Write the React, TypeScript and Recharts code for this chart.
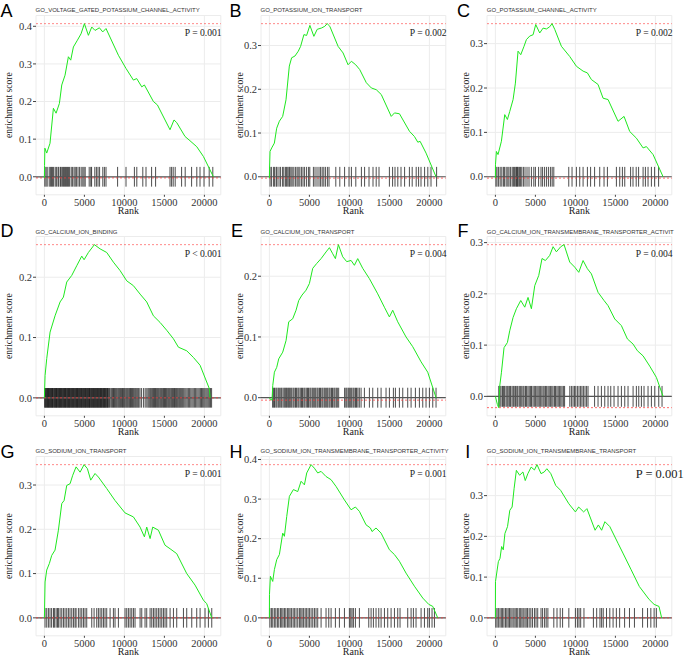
import React from 'react';
import { ComposedChart, Line, XAxis, YAxis, CartesianGrid, ReferenceLine } from 'recharts';

const rankTicks = [0, 5000, 10000, 15000, 20000];

// running enrichment score as [rank, score]
const esA = [[0, -0.003], [20, 0.03], [60, 0.076], [290, 0.063], [700, 0.089], [1125, 0.182], [1460, 0.169], [1875, 0.195], [2170, 0.244], [2580, 0.27], [3000, 0.319], [3290, 0.31], [3625, 0.345], [4125, 0.363], [4580, 0.38], [5000, 0.407], [5500, 0.376], [5920, 0.398], [6330, 0.389], [6875, 0.396], [7290, 0.385], [7700, 0.394], [9250, 0.323], [10200, 0.288], [11125, 0.257], [11540, 0.261], [12170, 0.239], [12500, 0.244], [13625, 0.2], [14125, 0.191], [15700, 0.125], [16200, 0.151], [16540, 0.144], [17580, 0.107], [18080, 0.098], [19040, 0.08], [19875, 0.054], [21125, 0]];
const hitsA = [50, 200, 350, 600, 750, 900, 1000, 1150, 1350, 1500, 1700, 1800, 2000, 2100, 2250, 2400, 2500, 2650, 2750, 2900, 3000, 3150, 3350, 3500, 3700, 3850, 4000, 4200, 4400, 4600, 4800, 4950, 5100, 5600, 5800, 5900, 6300, 6500, 6700, 6900, 7300, 7500, 7700, 9150, 10200, 11250, 11550, 12300, 12700, 13400, 13900, 15700, 15900, 16100, 16350, 17150, 17600, 18400, 19050, 19450, 19950, 20600, 21050];

const esB = [[0, -0.003], [20, 0.02], [80, 0.058], [290, 0.066], [620, 0.077], [910, 0.111], [1245, 0.127], [1660, 0.138], [2075, 0.176], [2490, 0.253], [2780, 0.272], [3195, 0.276], [3610, 0.287], [3900, 0.298], [4315, 0.325], [4650, 0.323], [5060, 0.346], [5560, 0.321], [5975, 0.337], [6510, 0.34], [6930, 0.344], [7220, 0.35], [7550, 0.344], [8590, 0.298], [9210, 0.283], [9830, 0.256], [10250, 0.264], [10790, 0.256], [11290, 0.245], [12115, 0.215], [12740, 0.203], [13360, 0.199], [13985, 0.188], [15230, 0.138], [15640, 0.146], [16260, 0.144], [17510, 0.104], [18130, 0.092], [18550, 0.079], [18840, 0.081], [19585, 0.054], [20830, 0]];
const hitsB = [80, 250, 500, 650, 850, 950, 1200, 1400, 1650, 1800, 2000, 2150, 2300, 2450, 2550, 2700, 2850, 3050, 3250, 3450, 3600, 3800, 4000, 4200, 4400, 4650, 4900, 5050, 5500, 5700, 5950, 6200, 6400, 6600, 6800, 7000, 7250, 7450, 8300, 8800, 9400, 9950, 10250, 10800, 11500, 11900, 12450, 12950, 13350, 13700, 15000, 15400, 15700, 16050, 16450, 16900, 17500, 17850, 18350, 18650, 18950, 19400, 19800, 20200, 20900];

const esC = [[0, -0.003], [10, 0.027], [125, 0.057], [330, 0.05], [750, 0.08], [1170, 0.14], [1500, 0.129], [1790, 0.147], [2210, 0.174], [2500, 0.211], [2830, 0.283], [3170, 0.275], [3580, 0.294], [3875, 0.309], [4290, 0.317], [4710, 0.32], [5040, 0.343], [5540, 0.324], [5960, 0.335], [6375, 0.333], [6790, 0.338], [7080, 0.345], [7420, 0.332], [8250, 0.294], [9290, 0.271], [10125, 0.249], [10960, 0.238], [11500, 0.234], [12000, 0.219], [12830, 0.208], [13460, 0.177], [14080, 0.174], [15330, 0.125], [16080, 0.136], [16790, 0.102], [17625, 0.087], [18460, 0.065], [18875, 0.068], [19710, 0.05], [20960, 0]];
const hitsC = [60, 200, 400, 600, 800, 1000, 1150, 1350, 1550, 1700, 1900, 2100, 2250, 2400, 2550, 2650, 2750, 2850, 3000, 3150, 3300, 3500, 3700, 3950, 4200, 4500, 4800, 5000, 5400, 5700, 5900, 6150, 6400, 6650, 6900, 7100, 7300, 9170, 9580, 10125, 10540, 10960, 11500, 11900, 12400, 13040, 13580, 14000, 15125, 15540, 15875, 16170, 16900, 17200, 17600, 17900, 18460, 18750, 19080, 19500, 19900, 20400];

const esD = [[0, 0], [83, 0.037], [290, 0.065], [710, 0.109], [1330, 0.136], [1960, 0.159], [2375, 0.167], [2790, 0.192], [3420, 0.203], [4040, 0.219], [4670, 0.235], [4960, 0.229], [5500, 0.241], [6250, 0.254], [6960, 0.247], [7790, 0.241], [8625, 0.225], [9460, 0.211], [10290, 0.194], [11125, 0.186], [11960, 0.172], [12790, 0.159], [13625, 0.136], [14460, 0.125], [15290, 0.112], [16125, 0.098], [16750, 0.084], [17790, 0.078], [18625, 0.067], [19460, 0.054], [20625, 0.015], [20710, 0]];
const hitsD = [30, 100, 170, 240, 310, 390, 460, 520, 600, 670, 730, 800, 880, 950, 1010, 1080, 1170, 1230, 1300, 1380, 1450, 1510, 1580, 1660, 1730, 1800, 1870, 1930, 2010, 2080, 2150, 2220, 2300, 2360, 2430, 2510, 2580, 2640, 2720, 2800, 2860, 2930, 3010, 3080, 3150, 3210, 3290, 3360, 3430, 3500, 3570, 3650, 3710, 3790, 3860, 3930, 4010, 4080, 4140, 4220, 4290, 4360, 4430, 4500, 4580, 4650, 4710, 4790, 4860, 4930, 5000, 5080, 5150, 5210, 5290, 5360, 5430, 5500, 5580, 5640, 5710, 5790, 5860, 5930, 6000, 6080, 6150, 6220, 6290, 6360, 6430, 6500, 6580, 6650, 6720, 6790, 6860, 6930, 7010, 7080, 7150, 7220, 7300, 7370, 7440, 7510, 7590, 7660, 7730, 7810, 7890, 7960, 8050, 8150, 8300, 8420, 8530, 8640, 8750, 8860, 8970, 9080, 9200, 9310, 9420, 9530, 9650, 9760, 9870, 9980, 10090, 10210, 10320, 10430, 10550, 10660, 10770, 10880, 11000, 11110, 11220, 11340, 11450, 11570, 11690, 11800, 11950, 12150, 12400, 12600, 12800, 12950, 13080, 13200, 13310, 13430, 13540, 13650, 13770, 13880, 13990, 14110, 14220, 14330, 14450, 14560, 14670, 14790, 14900, 15010, 15130, 15240, 15350, 15470, 15580, 15690, 15810, 15920, 16030, 16150, 16260, 16370, 16490, 16600, 16710, 16830, 16940, 17050, 17170, 17290, 17420, 17560, 17700, 17850, 18000, 18150, 18300, 18450, 18600, 18750, 18900, 19050, 19200, 19350, 19500, 19640, 19780, 19920, 20060, 20200, 20340, 20480, 20620, 20760, 20900];

const esE = [[0, 0], [80, -0.002], [330, -0.004], [420, 0.02], [625, 0.042], [915, 0.05], [1165, 0.064], [1665, 0.075], [2080, 0.094], [2415, 0.125], [2915, 0.13], [3330, 0.144], [3665, 0.16], [4080, 0.169], [4580, 0.177], [5000, 0.188], [5415, 0.213], [5915, 0.221], [6460, 0.229], [7080, 0.24], [7500, 0.247], [7915, 0.237], [8250, 0.229], [8625, 0.252], [9165, 0.232], [9665, 0.224], [10210, 0.226], [10625, 0.218], [11040, 0.229], [11665, 0.213], [12500, 0.196], [13540, 0.171], [14375, 0.149], [15000, 0.133], [15415, 0.144], [16040, 0.125], [17080, 0.1], [17915, 0.084], [18960, 0.059], [19790, 0.042], [20830, 0]];
const hitsE = [400, 530, 640, 810, 940, 1110, 1240, 1420, 1540, 1710, 1860, 1990, 2120, 2240, 2410, 2490, 2660, 2790, 2960, 3090, 3260, 3380, 3560, 3690, 3860, 4010, 4140, 4310, 4440, 4610, 4760, 4890, 5060, 5190, 5360, 5490, 5660, 5790, 5960, 6090, 6260, 6390, 6560, 6690, 6860, 6990, 7160, 7290, 7460, 7590, 7760, 7890, 8060, 8190, 8360, 8490, 8660, 9400, 9560, 9690, 9860, 9990, 10160, 10290, 10460, 10590, 10760, 10890, 11060, 11240, 11460, 11875, 12500, 12920, 13540, 13960, 14580, 15000, 15500, 15750, 16250, 16670, 17290, 17710, 18250, 18750, 19170, 19580, 20000, 20420, 20830];

const esF = [[0, 0], [250, -0.016], [415, -0.022], [540, 0.02], [750, 0.046], [1080, 0.095], [1500, 0.105], [1790, 0.128], [2210, 0.154], [2625, 0.171], [3170, 0.187], [3670, 0.174], [4080, 0.193], [4500, 0.171], [4920, 0.216], [5420, 0.236], [5830, 0.269], [6250, 0.265], [6790, 0.275], [7210, 0.292], [7625, 0.282], [8170, 0.292], [8580, 0.296], [9290, 0.262], [9920, 0.252], [10420, 0.242], [10960, 0.265], [11500, 0.249], [12000, 0.239], [12830, 0.203], [13580, 0.187], [14080, 0.177], [14920, 0.151], [15750, 0.138], [16500, 0.112], [17210, 0.102], [17750, 0.089], [18460, 0.079], [19290, 0.059], [20125, 0.037], [20960, 0]];
const hitsF = [420, 560, 700, 880, 1000, 1150, 1330, 1470, 1600, 1780, 1900, 2080, 2230, 2350, 2520, 2680, 2800, 2980, 3120, 3290, 3450, 3580, 3760, 3900, 4070, 4230, 4400, 4520, 4700, 4860, 5000, 5180, 5330, 5480, 5620, 5800, 5960, 6100, 6270, 6410, 6580, 6730, 6900, 7050, 7200, 7380, 7520, 7690, 7850, 8000, 8170, 8330, 8500, 8650, 9300, 9500, 9700, 9880, 10050, 10250, 10450, 10650, 10820, 11000, 11200, 11400, 11580, 12400, 12830, 13250, 13670, 14080, 14420, 14830, 15330, 15750, 16170, 16580, 17210, 17620, 17920, 18250, 18580, 19080, 19500, 19920, 20420, 20830];

const esG = [[0, 0], [83, 0.081], [290, 0.108], [625, 0.123], [915, 0.141], [1330, 0.153], [1750, 0.198], [2170, 0.258], [2460, 0.265], [2790, 0.299], [3210, 0.303], [3540, 0.322], [3960, 0.341], [4460, 0.329], [4960, 0.346], [5375, 0.337], [5790, 0.311], [6330, 0.326], [6750, 0.318], [7790, 0.292], [8830, 0.265], [10080, 0.237], [11125, 0.228], [11960, 0.205], [12500, 0.183], [12790, 0.205], [13210, 0.179], [13540, 0.205], [14250, 0.198], [15080, 0.164], [15710, 0.156], [16540, 0.145], [17790, 0.1], [18830, 0.074], [19875, 0.04], [20290, 0.032], [20920, 0]];
const hitsG = [80, 290, 500, 700, 900, 1130, 1250, 1460, 1630, 1750, 1960, 2170, 2380, 2580, 2790, 3000, 3200, 3420, 3630, 3830, 3960, 4250, 4460, 4670, 4880, 5080, 5290, 5920, 6210, 6540, 6750, 6960, 7170, 7380, 7580, 7790, 8210, 8625, 8830, 9250, 10080, 10290, 10500, 10710, 10920, 11130, 11330, 11960, 12170, 12580, 12790, 13210, 13420, 13630, 13830, 14040, 14250, 14460, 14670, 14880, 15080, 15290, 15710, 16130, 16540, 17380, 17790, 18420, 19040, 19460, 20080, 20500, 20920];

const esH = [[0, 0], [10, 0.059], [125, 0.105], [415, 0.092], [625, 0.122], [915, 0.147], [1250, 0.16], [1665, 0.214], [1875, 0.206], [2165, 0.256], [2500, 0.307], [3000, 0.324], [3540, 0.319], [3960, 0.345], [4375, 0.336], [4665, 0.366], [5210, 0.387], [5625, 0.378], [6040, 0.366], [6460, 0.37], [7080, 0.357], [7710, 0.349], [8330, 0.332], [9375, 0.298], [10210, 0.273], [10750, 0.28], [11250, 0.269], [12080, 0.235], [12625, 0.227], [12830, 0.218], [13330, 0.227], [13960, 0.214], [15000, 0.172], [15625, 0.16], [16250, 0.143], [17080, 0.113], [18125, 0.08], [19170, 0.05], [19920, 0.034], [20420, 0.029], [21040, 0]];
const hitsH = [60, 250, 420, 620, 800, 1000, 1170, 1380, 1540, 1700, 1880, 2050, 2250, 2420, 2580, 2750, 2960, 3120, 3330, 3540, 3750, 3920, 4080, 4250, 4460, 4620, 4830, 5000, 5210, 5420, 5630, 5830, 6040, 6460, 7080, 7420, 7710, 8250, 8750, 9380, 10000, 10170, 10330, 10500, 10750, 11250, 12420, 12710, 13000, 13330, 13670, 13960, 14380, 14790, 15210, 15630, 16040, 16330, 17290, 17710, 18000, 18330, 18960, 19380, 19790, 20000, 20330, 20630];

const esI = [[0, 0], [10, 0.089], [165, 0.11], [370, 0.138], [575, 0.146], [780, 0.175], [985, 0.167], [1190, 0.207], [1515, 0.224], [1800, 0.264], [2090, 0.272], [2335, 0.317], [2620, 0.362], [3030, 0.35], [3440, 0.358], [3730, 0.337], [4060, 0.354], [4465, 0.37], [4880, 0.363], [5200, 0.376], [5700, 0.354], [6105, 0.358], [6430, 0.366], [6925, 0.354], [7540, 0.325], [8150, 0.313], [9180, 0.28], [10000, 0.26], [10410, 0.272], [11030, 0.26], [11440, 0.268], [12460, 0.215], [12870, 0.228], [13280, 0.215], [13690, 0.236], [14300, 0.224], [15330, 0.183], [15940, 0.159], [16970, 0.118], [17990, 0.077], [19220, 0.045], [19840, 0.033], [20450, 0.028], [20780, 0]];
const hitsI = [40, 200, 370, 570, 740, 900, 1070, 1270, 1430, 1600, 1760, 1930, 2090, 2300, 2460, 2620, 2790, 2990, 3160, 3320, 3480, 3690, 3850, 4020, 4220, 4430, 4630, 4880, 5080, 5290, 5700, 5900, 6150, 6350, 6560, 7300, 7700, 8100, 8400, 9180, 10000, 10250, 10450, 10660, 11070, 12250, 12660, 13070, 13280, 13480, 13890, 14300, 14710, 15120, 15530, 16150, 16760, 17380, 18400, 19020, 19430, 19840, 20120];

const panels = [
  { letter: 'A', title: 'GO_VOLTAGE_GATED_POTASSIUM_CHANNEL_ACTIVITY', p: 'P = 0.001', es: esA, hits: hitsA, yTicks: [0, 0.1, 0.2, 0.3, 0.4] },
  { letter: 'B', title: 'GO_POTASSIUM_ION_TRANSPORT', p: 'P = 0.002', es: esB, hits: hitsB, yTicks: [0, 0.1, 0.2, 0.3] },
  { letter: 'C', title: 'GO_POTASSIUM_CHANNEL_ACTIVITY', p: 'P = 0.002', es: esC, hits: hitsC, yTicks: [0, 0.1, 0.2, 0.3] },
  { letter: 'D', title: 'GO_CALCIUM_ION_BINDING', p: 'P < 0.001', es: esD, hits: hitsD, yTicks: [0, 0.1, 0.2] },
  { letter: 'E', title: 'GO_CALCIUM_ION_TRANSPORT', p: 'P = 0.004', es: esE, hits: hitsE, yTicks: [0, 0.1, 0.2] },
  { letter: 'F', title: 'GO_CALCIUM_ION_TRANSMEMBRANE_TRANSPORTER_ACTIVIT', p: 'P = 0.004', es: esF, hits: hitsF, yTicks: [0, 0.1, 0.2, 0.3] },
  { letter: 'G', title: 'GO_SODIUM_ION_TRANSPORT', p: 'P = 0.001', es: esG, hits: hitsG, yTicks: [0, 0.1, 0.2, 0.3] },
  { letter: 'H', title: 'GO_SODIUM_ION_TRANSMEMBRANE_TRANSPORTER_ACTIVITY', p: 'P = 0.001', es: esH, hits: hitsH, yTicks: [0, 0.1, 0.2, 0.3, 0.4] },
  { letter: 'I', title: 'GO_SODIUM_ION_TRANSMEMBRANE_TRANSPORT', p: 'P = 0.001', es: esI, hits: hitsI, yTicks: [0, 0.1, 0.2, 0.3] },
];

// layout
const colLeft = [0, 225, 451.3];
const rowTop = [0, 221.4, 440.6];
const titleBase = [11.7, 233.8, 452.7];
const letterBase = [16.7, 236.7, 458];
const letterX = [0.5, 229.5, 457, 0.5, 231, 457.5, 0.5, 229.5, 465.3];
const yLabelOffset = [9, 15, 15];

const CHART_W = 234;
const CHART_H = 219;
const Y_AXIS_W = 36;
const serif = '"Liberation Serif", "Times New Roman", serif';
const sans = '"Liberation Sans", Arial, sans-serif';

const GseaPanel = ({ panel, idx }) => {
  const col = idx % 3;
  const row = Math.floor(idx / 3);
  const left = colLeft[col];
  const top = rowTop[row];
  const data = panel.es.map(([rank, score]) => ({ rank, score }));
  const scores = panel.es.map((d) => d[1]);
  const hi = Math.max(...scores);
  const minES = Math.min(...scores);
  const hitHalf = 0.064 * (hi - Math.min(minES, 0));
  const lo = Math.min(minES, -hitHalf);
  const pad = 0.05 * (hi - lo);
  const big = panel.letter === 'I';

  const pLabel = (props) => {
    const vb = props.viewBox || {};
    return (
      <text
        x={vb.x + vb.width - 36}
        y={vb.y + (big ? 13 : 12)}
        fontFamily={serif}
        fontSize={big ? 12.5 : 9.6}
        fill="#222"
      >
        {panel.p}
      </text>
    );
  };

  return (
    <>
      <div
        style={{
          position: 'absolute',
          left: letterX[idx],
          top: letterBase[row] - 15.2,
          fontFamily: sans,
          fontSize: 18,
          lineHeight: '18px',
          color: '#000',
        }}
      >
        {panel.letter}
      </div>
      <div
        style={{
          position: 'absolute',
          left: left + Y_AXIS_W - 0.5,
          top: titleBase[row] - 5.1,
          fontFamily: sans,
          fontSize: 6,
          lineHeight: '6px',
          color: '#333',
          whiteSpace: 'nowrap',
        }}
      >
        {panel.title}
      </div>
      <div style={{ position: 'absolute', left, top }}>
        <ComposedChart
          width={CHART_W}
          height={CHART_H}
          data={data}
          margin={{ top: 15.5, right: 13.2, bottom: 2.2, left: 0 }}
        >
          <CartesianGrid stroke="#ececec" />
          <XAxis
            type="number"
            dataKey="rank"
            domain={[-1050, 22050]}
            ticks={rankTicks}
            allowDataOverflow
            axisLine={false}
            tickSize={2}
            tickMargin={1.5}
            tickLine={{ stroke: '#444' }}
            tick={{ fontFamily: serif, fontSize: 10.5, fill: '#333' }}
            height={22}
            label={{
              value: 'Rank',
              position: 'insideBottom',
              offset: 2.5,
              style: { fontFamily: serif, fontSize: 10, fill: '#222' },
            }}
          />
          <YAxis
            type="number"
            domain={[lo - pad, hi + pad]}
            ticks={panel.yTicks}
            tickFormatter={(v) => v.toFixed(1)}
            allowDataOverflow
            width={Y_AXIS_W}
            axisLine={false}
            tickSize={3}
            tickMargin={1}
            tickLine={{ stroke: '#444' }}
            tick={{ fontFamily: serif, fontSize: 10.5, fill: '#333' }}
            label={{
              value: 'enrichment score',
              angle: -90,
              position: 'insideLeft',
              offset: yLabelOffset[col],
              style: { textAnchor: 'middle', fontFamily: serif, fontSize: 9.6, fill: '#222' },
            }}
          />
          {panel.hits.map((r) => (
            <ReferenceLine
              key={r}
              segment={[{ x: r, y: -hitHalf }, { x: r, y: hitHalf }]}
              stroke="#000"
              strokeOpacity={0.7}
              strokeWidth={1}
            />
          ))}
          <ReferenceLine y={0} stroke="#555" strokeWidth={1.2} />
          <ReferenceLine y={minES} stroke="#ff3b3b" strokeOpacity={0.75} strokeDasharray="2 2" />
          <ReferenceLine y={hi} stroke="#ff3b3b" strokeOpacity={0.6} strokeDasharray="2 2" label={pLabel} />
          <Line
            type="linear"
            dataKey="score"
            stroke="#1ee81e"
            strokeWidth={1}
            dot={false}
            isAnimationActive={false}
          />
        </ComposedChart>
      </div>
    </>
  );
}

export default function App() {
  return (
    <div
      style={{
        position: 'absolute',
        left: 0,
        top: 0,
        width: 685,
        height: 656,
        background: '#fff',
        overflow: 'hidden',
      }}
    >
      {panels.map((p, i) => (
        <GseaPanel key={p.letter} panel={p} idx={i} />
      ))}
    </div>
  );
}
